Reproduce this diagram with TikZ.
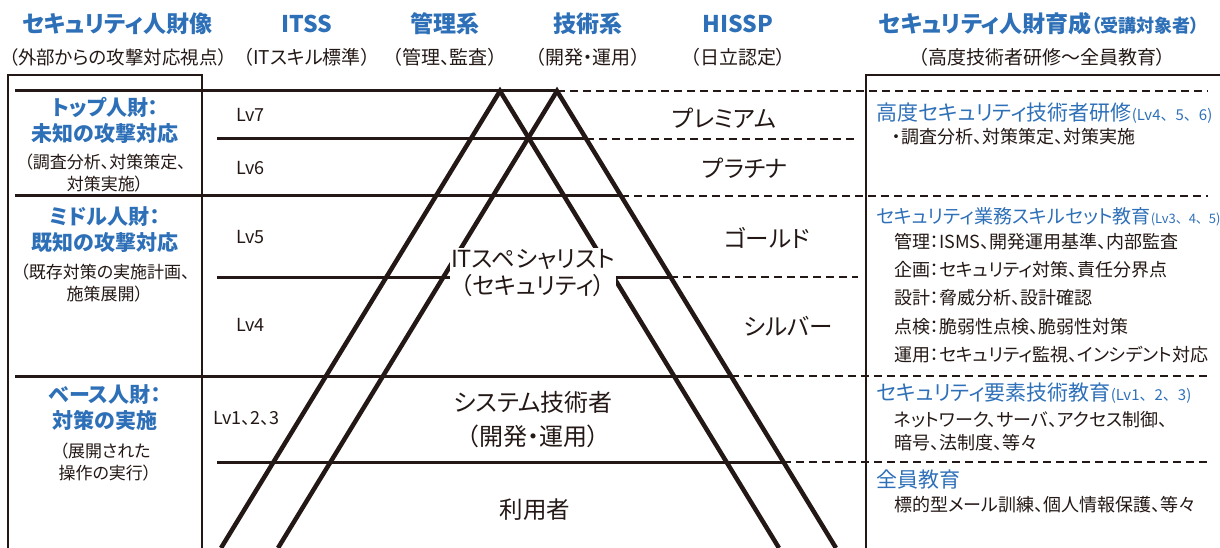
\documentclass[tikz,border=0pt]{standalone}
\usepackage{fontspec}
\setmainfont{Noto Sans CJK JP}[RawFeature=+palt]
\definecolor{hblue}{RGB}{46,112,184}
\definecolor{ink}{RGB}{35,24,21}
\newcommand{\lvtag}[2][15]{{\fontsize{#1}{16}\selectfont\addfontfeature{RawFeature=-palt}(#2)}}
\tikzset{
  head/.style={text=hblue,font=\fontsize{23}{26}\bfseries,inner sep=1pt},
  headsub/.style={text=ink,font=\fontsize{19}{21}\selectfont,inner sep=1pt},
  rank/.style={text=hblue,font=\fontsize{21}{26}\bfseries,align=center,inner sep=1pt},
  rankdesc/.style={text=ink,font=\fontsize{17}{22}\selectfont,align=center,inner sep=1pt},
  lv/.style={text=ink,font=\fontsize{18}{20}\selectfont,anchor=west,inner sep=0pt},
  tier/.style={text=ink,font=\fontsize{23.5}{27}\selectfont,align=center,inner sep=1pt},
  course/.style={text=hblue,font=\fontsize{21}{24}\selectfont,anchor=west,inner sep=0pt},
  item/.style={text=ink,font=\fontsize{18}{20}\selectfont,anchor=west,inner sep=0pt},
  frame/.style={ink,line width=2.5pt},
  lvl/.style={ink,line width=3pt},
  dline/.style={ink,line width=2.5pt,dash pattern=on 8pt off 5pt},
  tri/.style={ink,line width=4.5pt,line join=miter},
}
\begin{document}
\begin{tikzpicture}[x=1pt,y=-1pt]
    \useasboundingbox (0,0) rectangle (1220,548);
    %% column headers
    \foreach \n/\x/\t/\s in {2/307/ITSS/（ITスキル標準）,
                             3/445/管理系/（管理、監査）,
                             4/588/技術系/（開発・運用）,
                             5/738/HISSP/（日立認定）}{
        \node[head] (h\n) at (\x,24) {\t};
        \node[headsub] (s\n) at (\x,57) {\s};
    }
    \node[head] (h1) at (117,24) {セキュリティ人財像};
    \node[headsub,font=\fontsize{18.5}{21}\selectfont] (s1) at (118,57) {（外部からの攻撃対応視点）};
    \node[head] (h6) at (1039,24) {セキュリティ人財育成{\fontsize{18}{20}\selectfont（受講対象者）}};
    \node[headsub] (s6) at (1042,57) {（高度技術者研修〜全員教育）};
    %% boxes
    \draw[frame] (8,548) |- (202,75) -- (202,548);
    \draw[frame] (866,548) |- (1220,75);
    %% level lines: solid up to the right leg, dashed beyond
    \foreach \y/\a/\b in {91/15/1208, 139/217/858, 196/15/1208,
                          277/217/858, 376/15/1208, 462/217/1208}{
        \pgfmathsetmacro\xe{557+0.61*(\y-91)}
        \draw[lvl] (\a,\y) -- (\xe,\y);
        \draw[dline] (\xe,\y) -- (\b,\y);
    }
    %% the two pyramids
    \coordinate (pL) at (500,91);
    \coordinate (pR) at (557,91);
    \draw[tri] (221,548) -- (pL) -- (779,548);
    \draw[tri] (278,548) -- (pR) -- (836,548);
    %% left column
    \node[rank] (top) at (105,120) {トップ人財：\\未知の攻撃対応};
    \node[rankdesc] (topd) at (105,173) {（調査分析、対策策定、\\対策実施）};
    \node[rank] (mid) at (105,230) {ミドル人財：\\既知の攻撃対応};
    \node[rankdesc] (midd) at (105,283) {（既存対策の実施計画、\\施策展開）};
    \node[rank] (base) at (105,408) {ベース人財：\\対策の実施};
    \node[rankdesc] (based) at (105,462) {（展開された\\操作の実行）};
    %% ITSS levels
    \foreach \n/\y in {7/115,6/168,5/237,4/325}
        \node[lv] (lv\n) at (236,\y) {Lv\n};
    \node[lv] (lv1) at (213,418) {Lv1、2、3};
    %% tiers
    \node[tier] (prem) at (724,118) {プレミアム};
    \node[tier] (plat) at (745,168) {プラチナ};
    \node[tier] (gold) at (767,238) {ゴールド};
    \node[tier] (silv) at (788,326) {シルバー};
    \node[tier,fill=white] (itsp) at (533,273) {ITスペシャリスト\\（セキュリティ）};
    \node[tier,font=\fontsize{24}{34}\selectfont] (syst) at (533,420) {システム技術者\\（開発・運用）};
    \node[tier] (user) at (535,510) {利用者};
    %% courses
    \node[course] (c1) at (876,113) {高度セキュリティ技術者研修\lvtag{Lv4、5、6}};
    \node[item] (c1a) at (892,137) {・調査分析、対策策定、対策実施};
    \node[course,font=\fontsize{19}{24}\selectfont] (c2) at (876,217) {セキュリティ業務スキルセット教育\lvtag[13]{Lv3、4、5}};
    \foreach \n/\y/\t in {a/242/管理：ISMS、開発運用基準、内部監査,
                          b/270/企画：セキュリティ対策、責任分界点,
                          c/298/設計：脅威分析、設計確認,
                          d/327/点検：脆弱性点検、脆弱性対策,
                          e/355/運用：セキュリティ監視、インシデント対応}
        \node[item] (c2\n) at (894,\y) {\t};
    \node[course] (c3) at (876,393) {セキュリティ要素技術教育\lvtag{Lv1、2、3}};
    \node[item] (c3a) at (894,420) {ネットワーク、サーバ、アクセス制御、};
    \node[item] (c3b) at (894,443) {暗号、法制度、等々};
    \node[course] (c4) at (876,480) {全員教育};
    \node[item] (c4a) at (894,505) {標的型メール訓練、個人情報保護、等々};
\end{tikzpicture}
\end{document}
